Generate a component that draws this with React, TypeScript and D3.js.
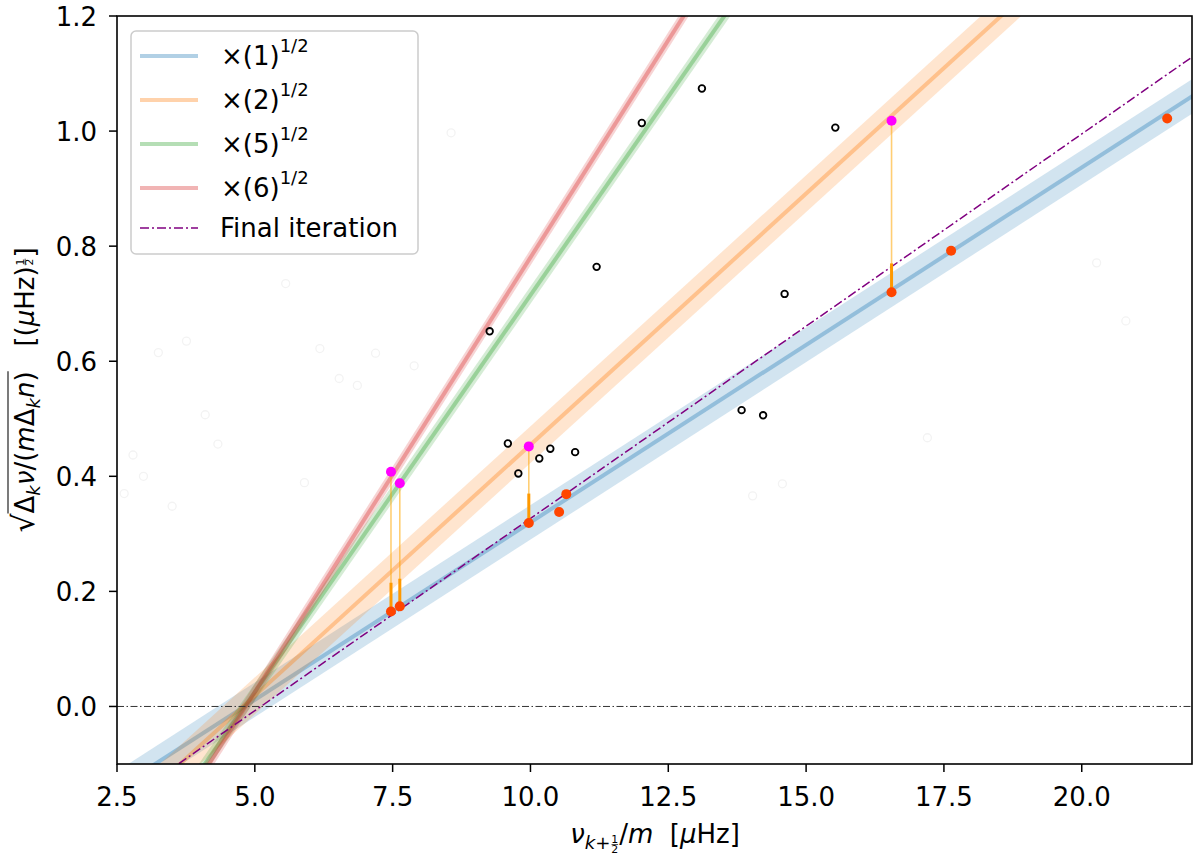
import * as d3 from 'd3';
import { useRef, useEffect } from 'react';

const W = 1200;
const H = 861;

const xTicks = [2.5, 5.0, 7.5, 10.0, 12.5, 15.0, 17.5, 20.0];
const yTicks = [0.0, 0.2, 0.4, 0.6, 0.8, 1.0, 1.2];

// fitted ridge lines, end points (x, y)
const fitLabels = ['1', '2', '5', '6'];
const fitColors = ['#1f77b4', '#ff7f0e', '#2ca02c', '#d62728'];
const fitX0 = [2.38, 3.07, 3.73, 3.84];
const fitY0 = [-0.15, -0.15, -0.15, -0.15];
const fitX1 = [22.5, 19.11, 13.88, 13.11];
const fitY1 = [1.091, 1.25, 1.25, 1.25];
const fitBand = [0.03, 0.032, 0.015, 0.014];

const finalX = [2.865, 22.5];
const finalY = [-0.15, 1.162];

// points on the ×1 ridge
const redX = [7.47, 7.63, 9.97, 10.52, 10.65, 16.55, 17.63, 21.55];
const redY = [0.165, 0.174, 0.319, 0.338, 0.369, 0.72, 0.792, 1.022];

// points on the higher ridges, with the drop to the ×1 ridge
const magX = [7.47, 7.63, 9.97, 16.55];
const magY = [0.408, 0.388, 0.452, 1.018];
const dropY = [0.165, 0.174, 0.319, 0.72];
const dropHead = [0.215, 0.222, 0.37, 0.77];

const blackX = [9.26, 11.2, 13.11, 12.02, 15.53, 14.61, 13.83, 14.22, 9.59, 9.78, 10.16, 10.36, 10.81];
const blackY = [0.652, 0.764, 1.074, 1.014, 1.006, 0.717, 0.515, 0.506, 0.457, 0.405, 0.431, 0.448, 0.442];

const faintX = [3.25, 3.76, 5.56, 6.18, 6.53, 6.86, 7.19, 7.89, 8.56, 4.1, 2.79, 2.98, 2.63, 3.5, 4.33, 5.9, 20.27, 20.8, 17.2, 14.57, 14.03];
const faintY = [0.615, 0.635, 0.735, 0.622, 0.57, 0.558, 0.614, 0.592, 0.997, 0.507, 0.437, 0.4, 0.37, 0.348, 0.456, 0.389, 0.771, 0.67, 0.467, 0.387, 0.366];

const FONT = 'DejaVu Sans, sans-serif';
const NB = '\u00a0';

type Piece = { t: string; italic?: boolean; sub?: boolean; sup?: boolean; frac?: boolean; size?: number; over?: boolean };

// lays out a row of text pieces, centred at 0, baseline 0
function drawMath(g: d3.Selection<SVGGElement, unknown, null, undefined>, pieces: Piece[], fs: number) {
  const items: { node: SVGGraphicsElement; w: number; p: Piece }[] = [];
  pieces.forEach(p => {
    if (p.frac) {
      const sg = g.append('g');
      const s = fs * 0.42;
      const off = p.sub ? fs * 0.28 : -fs * 0.12;
      sg.append('text').attr('font-size', s).attr('text-anchor', 'middle').attr('y', -fs * 0.28 + off).text(p.t[0]);
      sg.append('text').attr('font-size', s).attr('text-anchor', 'middle').attr('y', fs * 0.1 + off).text(p.t[2]);
      sg.append('line').attr('x1', -s * 0.3).attr('x2', s * 0.3)
        .attr('y1', -fs * 0.22 + off).attr('y2', -fs * 0.22 + off)
        .attr('stroke', '#222').attr('stroke-width', 0.8);
      items.push({ node: sg.node() as SVGGraphicsElement, w: s * 0.8, p });
      return;
    }
    const size = p.size ?? (p.sub || p.sup ? fs * 0.7 : fs);
    const t = g.append('text')
      .attr('font-size', size)
      .attr('font-style', p.italic ? 'italic' : 'normal')
      .attr('y', p.sub ? fs * 0.22 : p.sup ? -fs * 0.42 : 0)
      .text(p.t);
    items.push({ node: t.node() as SVGGraphicsElement, w: (t.node() as SVGTextElement).getComputedTextLength(), p });
  });
  const total = d3.sum(items, d => d.w);
  let x = -total / 2;
  let overStart: number | null = null;
  let overEnd = 0;
  items.forEach(it => {
    if (it.p.frac) d3.select(it.node).attr('transform', `translate(${x + it.w / 2},0)`);
    else d3.select(it.node).attr('x', x);
    if (it.p.over) {
      if (overStart === null) overStart = x;
      overEnd = x + it.w;
    }
    x += it.w;
  });
  if (overStart !== null) {
    g.append('line').attr('x1', overStart).attr('x2', overEnd)
      .attr('y1', -fs * 1.0).attr('y2', -fs * 1.0)
      .attr('stroke', '#222').attr('stroke-width', 1.2);
  }
}

const App = () => {
  const ref = useRef<SVGSVGElement>(null);

  useEffect(() => {
    if (!ref.current) return;
    const svg = d3.select(ref.current);
    svg.selectAll('*').remove();
    svg.style('font-family', FONT);

    const x = d3.scaleLinear().domain([2.5, 22]).range([117, 1192]);
    const y = d3.scaleLinear().domain([-0.1, 1.2]).range([764, 16]);
    const [left, right] = x.range();
    const [bottom, top] = y.range();

    svg.append('rect').attr('width', W).attr('height', H).attr('fill', 'white');

    svg.append('clipPath').attr('id', 'plot')
      .append('rect').attr('x', left).attr('y', top).attr('width', right - left).attr('height', bottom - top);

    const plot = svg.append('g').attr('clip-path', 'url(#plot)');

    // faint background points
    plot.append('g').selectAll('circle').data(faintX).join('circle')
      .attr('cx', d => x(d)).attr('cy', (_, i) => y(faintY[i])).attr('r', 4)
      .attr('fill', 'none').attr('stroke', '#f3f3f3').attr('stroke-width', 1.3);

    // ridge bands and lines
    fitLabels.forEach((_, i) => {
      const pts: [number, number][] = [[fitX0[i], fitY0[i]], [fitX1[i], fitY1[i]]];
      const area = d3.area<[number, number]>()
        .x(d => x(d[0])).y0(d => y(d[1] - fitBand[i])).y1(d => y(d[1] + fitBand[i]));
      plot.append('path').attr('d', area(pts)).attr('fill', fitColors[i]).attr('fill-opacity', 0.2);
      const line = d3.line<[number, number]>().x(d => x(d[0])).y(d => y(d[1]));
      plot.append('path').attr('d', line(pts)).attr('stroke', fitColors[i])
        .attr('stroke-opacity', 0.35).attr('stroke-width', 4).attr('fill', 'none');
    });

    // zero line
    plot.append('line').attr('x1', left).attr('x2', right).attr('y1', y(0)).attr('y2', y(0))
      .attr('stroke', '#333').attr('stroke-width', 1).attr('stroke-dasharray', '7 2.5 1.5 2.5');

    // final iteration
    plot.append('line')
      .attr('x1', x(finalX[0])).attr('y1', y(finalY[0]))
      .attr('x2', x(finalX[1])).attr('y2', y(finalY[1]))
      .attr('stroke', '#800080').attr('stroke-width', 1.5).attr('stroke-dasharray', '9 3 2 3');

    // drops from higher ridges
    const drops = plot.append('g');
    magX.forEach((mx, i) => {
      drops.append('line').attr('x1', x(mx)).attr('x2', x(mx)).attr('y1', y(magY[i])).attr('y2', y(dropY[i]))
        .attr('stroke', '#ffa500').attr('stroke-opacity', 0.55).attr('stroke-width', 1.6);
      drops.append('line').attr('x1', x(mx)).attr('x2', x(mx)).attr('y1', y(dropHead[i])).attr('y2', y(dropY[i]))
        .attr('stroke', '#ff9900').attr('stroke-width', 3);
    });

    plot.append('g').selectAll('circle').data(blackX).join('circle')
      .attr('cx', d => x(d)).attr('cy', (_, i) => y(blackY[i])).attr('r', 3.3)
      .attr('fill', 'none').attr('stroke', 'black').attr('stroke-width', 1.8);

    plot.append('g').selectAll('circle').data(redX).join('circle')
      .attr('cx', d => x(d)).attr('cy', (_, i) => y(redY[i])).attr('r', 5)
      .attr('fill', '#ff4500');

    plot.append('g').selectAll('circle').data(magX).join('circle')
      .attr('cx', d => x(d)).attr('cy', (_, i) => y(magY[i])).attr('r', 5)
      .attr('fill', '#ff00ff');

    // frame
    svg.append('rect').attr('x', left).attr('y', top).attr('width', right - left).attr('height', bottom - top)
      .attr('fill', 'none').attr('stroke', 'black').attr('stroke-width', 1.6);

    // axes
    const xAxis = svg.append('g');
    xTicks.forEach(t => {
      xAxis.append('line').attr('x1', x(t)).attr('x2', x(t)).attr('y1', bottom).attr('y2', bottom + 8)
        .attr('stroke', 'black').attr('stroke-width', 1.5);
      xAxis.append('text').attr('x', x(t)).attr('y', 806).attr('text-anchor', 'middle')
        .attr('font-size', 26).text(d3.format('.1f')(t));
    });
    const yAxis = svg.append('g');
    yTicks.forEach(t => {
      yAxis.append('line').attr('x1', left - 8).attr('x2', left).attr('y1', y(t)).attr('y2', y(t))
        .attr('stroke', 'black').attr('stroke-width', 1.5);
      yAxis.append('text').attr('x', 97).attr('y', y(t) + 9.5).attr('text-anchor', 'end')
        .attr('font-size', 26).text(d3.format('.1f')(t));
    });

    // axis labels
    const xl = svg.append('g').attr('transform', 'translate(655,843)');
    drawMath(xl, [
      { t: 'ν', italic: true },
      { t: 'k', italic: true, sub: true },
      { t: '+', sub: true },
      { t: '1/2', frac: true, sub: true },
      { t: '/' },
      { t: 'm', italic: true },
      { t: `${NB}${NB}[` },
      { t: 'μ', italic: true },
      { t: 'Hz]' },
    ], 26);

    const yl = svg.append('g').attr('transform', 'translate(34,390) rotate(-90)');
    drawMath(yl, [
      { t: '√', size: 30 },
      { t: 'Δ', over: true },
      { t: 'k', italic: true, sub: true, over: true },
      { t: 'ν', italic: true, over: true },
      { t: '/(', over: true },
      { t: 'm', italic: true, over: true },
      { t: 'Δ', over: true },
      { t: 'k', italic: true, sub: true, over: true },
      { t: 'n', italic: true, over: true },
      { t: ')', over: true },
      { t: `${NB}${NB}${NB}[(` },
      { t: 'μ', italic: true },
      { t: 'Hz)' },
      { t: '1/2', frac: true },
      { t: ']' },
    ], 26);

    // legend
    const lg = svg.append('g');
    lg.append('rect').attr('x', 131).attr('y', 31).attr('width', 287).attr('height', 223).attr('rx', 5)
      .attr('fill', 'white').attr('fill-opacity', 0.8).attr('stroke', '#cccccc').attr('stroke-width', 1.5);
    const rowY = [56, 100, 144, 188, 228];
    fitLabels.forEach((lab, i) => {
      lg.append('line').attr('x1', 140).attr('x2', 198).attr('y1', rowY[i]).attr('y2', rowY[i])
        .attr('stroke', fitColors[i]).attr('stroke-opacity', 0.35).attr('stroke-width', 4);
      const t = lg.append('text').attr('x', 221).attr('y', rowY[i] + 9).attr('font-size', 26);
      t.append('tspan').text(`×(${lab})`);
      t.append('tspan').attr('font-size', 18).attr('dy', -13).text('1/2');
    });
    lg.append('line').attr('x1', 140).attr('x2', 198).attr('y1', rowY[4]).attr('y2', rowY[4])
      .attr('stroke', '#800080').attr('stroke-width', 1.5).attr('stroke-dasharray', '9 3 2 3');
    lg.append('text').attr('x', 220).attr('y', rowY[4] + 9).attr('font-size', 26).text('Final iteration');
  }, []);

  return <svg ref={ref} width={W} height={H} style={{ position: 'absolute', left: 0, top: 0 }} />;
};

export default App;
